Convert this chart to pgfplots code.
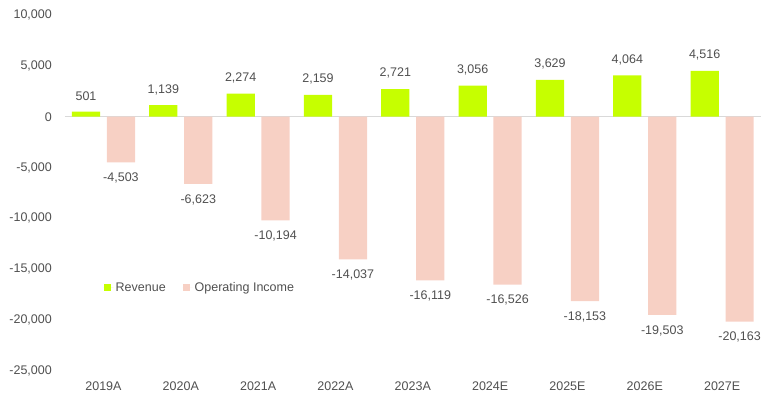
\documentclass[border=0pt]{standalone}
\usepackage{pgfplots}
\pgfplotsset{compat=1.18}
\usepackage{fontspec}
\setmainfont{Liberation Sans}
\definecolor{rev}{HTML}{C6FF00}
\definecolor{opi}{HTML}{F7D0C4}
\definecolor{txt}{HTML}{505050}
\definecolor{zl}{HTML}{D9D9D9}
\begin{document}
\begin{tikzpicture}
\begin{axis}[
  scale only axis,
  width=696bp, height=355.6bp,
  xmin=-0.5, xmax=8.5,
  ymin=-25000, ymax=10000,
  ytick={-25000,-20000,-15000,-10000,-5000,0,5000,10000},
  xtick={0,1,2,3,4,5,6,7,8},
  xticklabels={2019A,2020A,2021A,2022A,2023A,2024E,2025E,2026E,2027E},
  axis line style={draw=none},
  major tick length=0pt,
  tick label style={font=\fontsize{12.5bp}{14bp}\selectfont, text=txt},
  yticklabel style={inner sep=0pt, xshift=-12.8bp},
  xticklabel style={inner sep=0pt, yshift=-11.3bp},
  /pgf/number format/assume math mode=true,
  /pgf/number format/1000 sep={,},
  scaled y ticks=false,
  ybar,
  bar width=0.365,
  nodes near coords,
  every node near coord/.append style={font=\fontsize{12.5bp}{14bp}\selectfont, text=txt, inner xsep=0pt, inner ysep=10.3bp,
    /pgf/number format/assume math mode=true, /pgf/number format/1000 sep={,}, /pgf/number format/fixed, /pgf/number format/precision=0},
  legend style={draw=none, fill=none, inner sep=0pt, at={(rel axis cs:0.0556,0.2338)}, anchor=west,
    font=\fontsize{12.5bp}{14bp}\selectfont, text=txt, /tikz/every even column/.append style={column sep=15bp}},
  legend columns=2,
  legend image code/.code={\fill (0bp,-3.5bp) rectangle (7bp,3.5bp); \path (0bp,0bp) -- (10bp,0bp);},
]
\draw[zl, line width=0.8bp] (axis cs:-0.5,0) -- (axis cs:8.5,0);
\addplot[fill=rev, draw=none, bar shift=-0.226] coordinates {(0,501) (1,1139) (2,2274) (3,2159) (4,2721) (5,3056) (6,3629) (7,4064) (8,4516)};
\addplot[fill=opi, draw=none, bar shift=0.226] coordinates {(0,-4503) (1,-6623) (2,-10194) (3,-14037) (4,-16119) (5,-16526) (6,-18153) (7,-19503) (8,-20163)};
\legend{Revenue, Operating Income}
\end{axis}
\useasboundingbox (-64.8bp,-25.3bp) rectangle (712.2bp,370.7bp);
\end{tikzpicture}
\end{document}
